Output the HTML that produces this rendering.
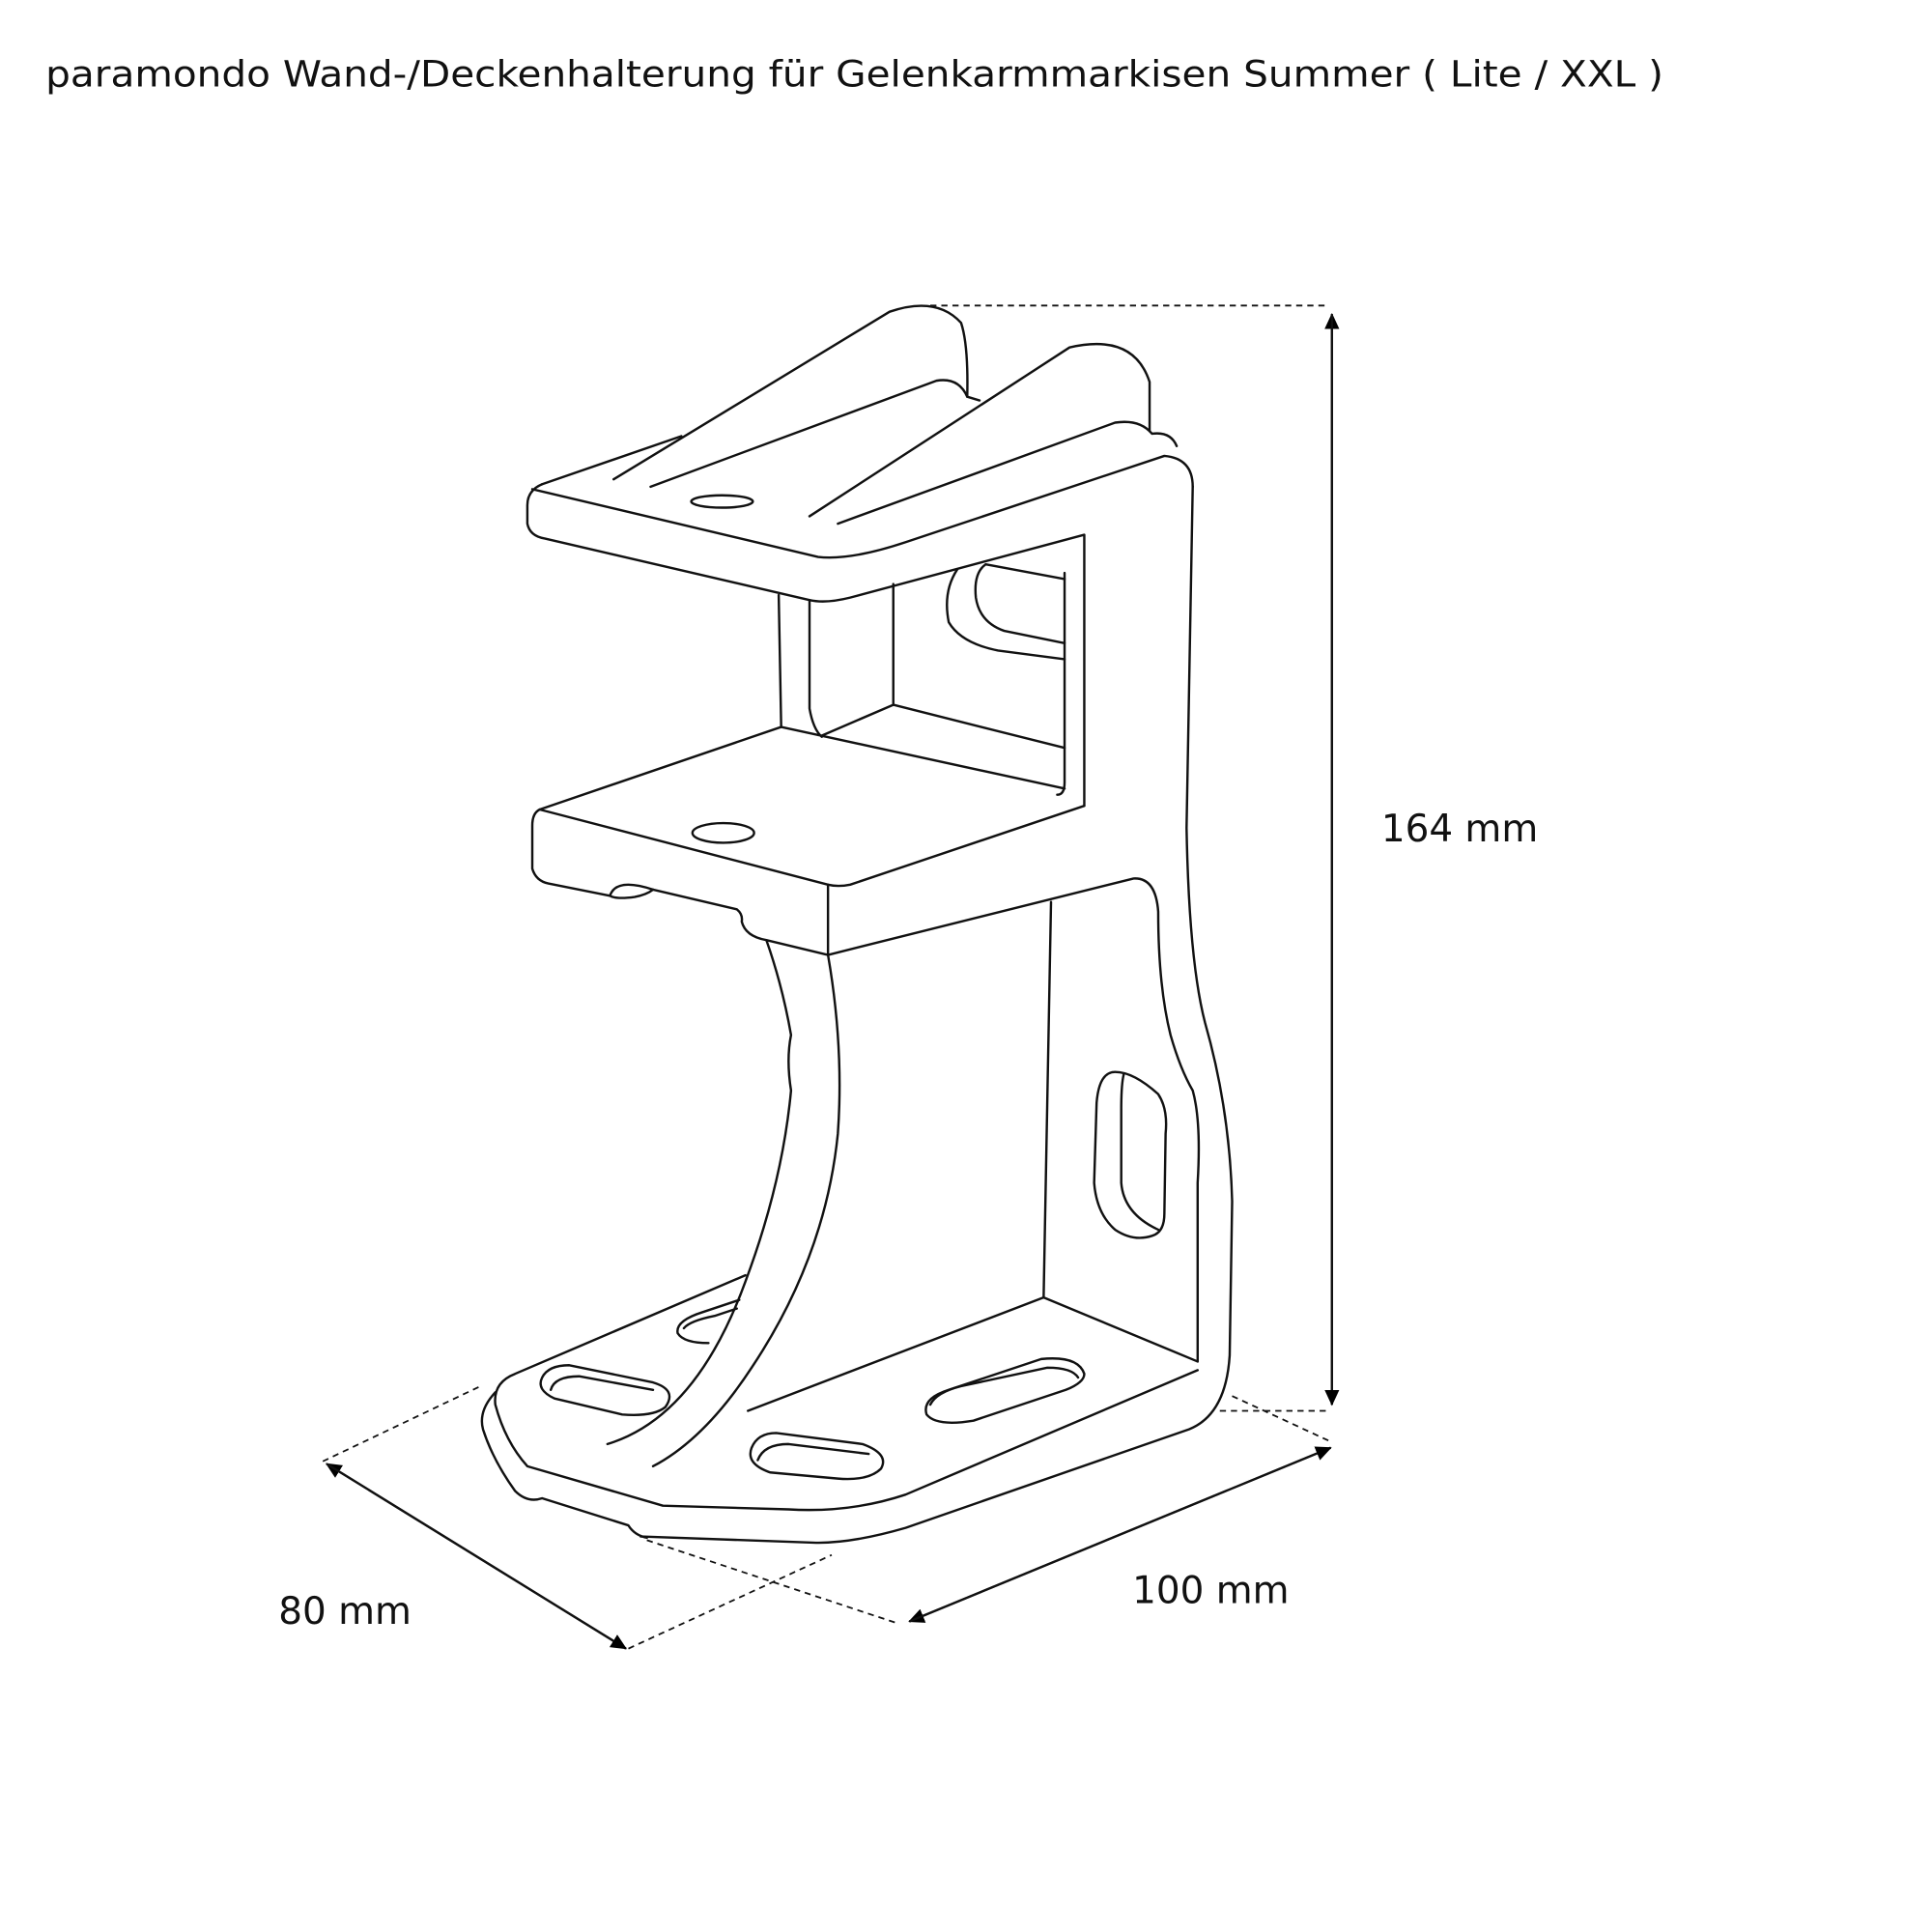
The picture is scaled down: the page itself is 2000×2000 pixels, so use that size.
<!DOCTYPE html>
<html><head><meta charset="utf-8"><style>
html,body{margin:0;padding:0;background:#fff;width:2000px;height:2000px;overflow:hidden}
svg{display:block}
</style></head><body>
<svg width="2000" height="2000" viewBox="0 0 1568 1568" xmlns="http://www.w3.org/2000/svg">
<defs><marker id="a" markerWidth="13" markerHeight="12" refX="12" refY="6" orient="auto" markerUnits="userSpaceOnUse"><path d="M0,0 L13,6 L0,12 Z" fill="#000"/></marker></defs>
<text x="37" y="70" font-family="DejaVu Sans, Liberation Sans, sans-serif" font-size="29.5" fill="#111" textLength="1313" lengthAdjust="spacingAndGlyphs">paramondo Wand-/Deckenhalterung für Gelenkarmmarkisen Summer ( Lite / XXL )</text>
<g fill="none" stroke="#111" stroke-width="1.9" stroke-linejoin="round" stroke-linecap="round">
<path d="M440,393 L553,354"/>
<path d="M498,389 L722,253 Q760,240 780,262 Q786,280 785,322"/>
<path d="M528,395 L760,309 Q778,306 785,322 L795,325"/>
<path d="M657,419 L868,282 Q920,270 933,310 L933,350"/>
<path d="M680,425 L905,343 Q925,340 935,352 Q950,350 955,362"/>
<path d="M432,397 L664,452 Q690,455 735,440 L945,370 Q968,372 968,395"/>
<path d="M440,393 Q428,398 428,410 L428,425 Q430,435 442,437 L657,487 Q670,490 690,485 L880,434 L880,654"/>
<path d="M968,395 L963,672 Q965,780 978,830 Q998,900 1000,975 L998,1100 Q995,1148 965,1160 L735,1240 Q690,1253 660,1252 L520,1247"/>
<path d="M880,654 L690,718 Q680,720 672,718 L438,657 Q432,660 432,670 L432,705 Q435,715 445,717 L495,727 Q500,712 530,722 L598,738 Q603,742 602,748 Q605,760 622,763 L672,775 L920,713 Q938,712 940,740 Q940,800 950,840 Q958,868 968,885 Q975,910 972,960 L972,1105"/>
<path d="M495,727 Q500,730 515,728 Q525,726 530,722"/>
<path d="M672,718 L672,775"/>
<path d="M632,483 L634,590"/>
<path d="M657,487 L657,575 Q660,592 667,598"/>
<path d="M725,474 L725,572 L667,597"/>
<path d="M725,572 L864,607"/>
<path d="M438,657 L634,590 L864,640"/>
<path d="M864,465 L864,635 Q864,645 858,645"/>
<path d="M800,458 L864,470"/>
<path d="M800,458 Q790,465 792,485 Q795,505 815,512 L864,522"/>
<path d="M777,462 Q765,480 770,505 Q780,522 810,528 L864,535"/>
<ellipse cx="587" cy="676" rx="25" ry="8"/>
<ellipse cx="586" cy="407" rx="25" ry="5"/>
<path d="M853,732 L847,1053 L972,1105"/>
<path d="M847,1053 L607,1145"/>
<path d="M605,1035 L418,1115 Q400,1122 402,1140 Q410,1170 428,1190 L538,1222 L640,1225 Q690,1228 735,1213 L972,1112"/>
<path d="M402,1130 Q388,1145 392,1160 Q400,1185 418,1210 Q428,1220 440,1216 L510,1238 Q515,1246 525,1248"/>
<path d="M622,763 Q635,800 642,840 Q638,860 642,885 Q635,960 605,1040 Q565,1150 493,1172"/>
<path d="M672,775 Q685,850 680,920 Q670,1020 610,1110 Q572,1168 530,1190"/>
<path d="M462,1108 L530,1122 Q550,1128 540,1142 Q530,1150 505,1148 L450,1135 Q435,1128 440,1118 Q445,1108 462,1108 Z"/>
<path d="M447,1128 Q450,1117 470,1117 L530,1128"/>
<path d="M630,1163 L700,1172 Q722,1180 715,1192 Q705,1202 680,1200 L625,1195 Q605,1188 610,1175 Q615,1163 630,1163 Z"/>
<path d="M615,1185 Q620,1172 640,1172 L705,1180"/>
<path d="M770,1128 L845,1103 Q875,1100 880,1115 Q880,1122 865,1128 L790,1153 Q760,1158 752,1148 Q748,1135 770,1128 Z"/>
<path d="M755,1140 Q760,1130 780,1125 L850,1110 Q870,1110 875,1118"/>
<path d="M600,1055 L570,1065 Q548,1072 550,1082 Q555,1090 575,1090"/>
<path d="M555,1078 Q560,1072 580,1068 L598,1062"/>
<path d="M905,870 Q920,870 940,888 Q948,900 946,920 L945,985 Q945,1000 935,1003 Q920,1008 905,998 Q890,985 888,960 L890,895 Q892,870 905,870 Z"/>
<path d="M912,872 Q910,880 910,900 L910,960 Q912,985 940,998"/>
</g>
<g fill="none" stroke="#111" stroke-width="1.4" stroke-dasharray="5,4">
<path d="M755,248 L1078,248"/>
<path d="M1000,1133 L1080,1170"/>
<path d="M990,1145 L1080,1145"/>
<path d="M525,1250 L730,1318"/>
<path d="M262,1186 L390,1125"/>
<path d="M510,1338 L675,1262"/>
</g>
<g stroke="#111" stroke-width="1.8" fill="none">
<line x1="1081" y1="1140" x2="1081" y2="255" marker-end="url(#a)"/>
<line x1="1081" y1="255" x2="1081" y2="1140" marker-end="url(#a)"/>
<line x1="1080" y1="1175" x2="738" y2="1316" marker-end="url(#a)"/>
<line x1="738" y1="1316" x2="1080" y2="1175" marker-end="url(#a)"/>
<line x1="508" y1="1338" x2="265" y2="1188" marker-end="url(#a)"/>
<line x1="265" y1="1188" x2="508" y2="1338" marker-end="url(#a)"/>
</g>
<g font-family="DejaVu Sans, Liberation Sans, sans-serif" font-size="30.5" fill="#111">
<text x="1121" y="683">164 mm</text>
<text x="919" y="1301">100 mm</text>
<text x="226" y="1318">80 mm</text>
</g>
</svg>
</body></html>
